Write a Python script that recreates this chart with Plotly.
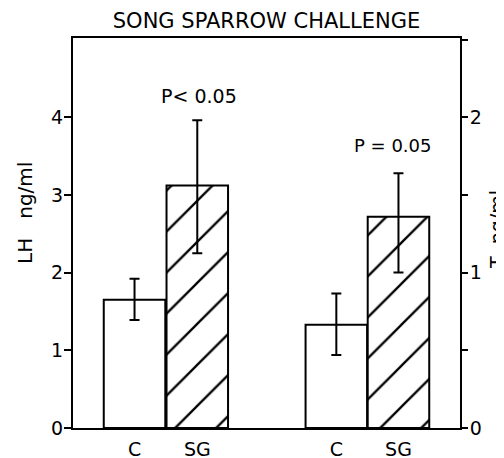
import plotly.graph_objects as go

# Data
groups = ["C", "SG"]
lh_values = [1.65, 3.12]
lh_err_plus = [0.27, 0.84]
lh_err_minus = [0.26, 0.87]
t_values = [0.665, 1.36]
t_err_plus = [0.20, 0.28]
t_err_minus = [0.195, 0.36]
p_labels = ["P< 0.05", "P = 0.05"]

# positions (layout)
lh_x = [1.0, 2.02]
t_x = [4.28, 5.29]

FONT = "DejaVu Sans"
OFF = 8  # page body margin
L, R, T, B = 65, 52, 30, 38
PW, PH = 504 - L - R, 458 - T - B

def px(xs):
    return (xs - OFF - L) / PW

def py(ys):
    return (458 - B - (ys - OFF)) / PH

fig = go.Figure()

def add_bars(xs, vals, ep, em, yaxis):
    for i in range(2):
        if i == 1:
            pattern = dict(shape="/", fgcolor="black", bgcolor="white", fgopacity=1,
                           size=29, solidity=0.08)
        else:
            pattern = dict(shape="")
        fig.add_trace(go.Bar(
            x=[xs[i]], y=[vals[i]], width=1.0, yaxis=yaxis,
            marker=dict(color="white", line=dict(color="black", width=2), pattern=pattern),
            error_y=dict(type="data", array=[ep[i]], arrayminus=[em[i]], color="black",
                         thickness=2, width=5),
            showlegend=False,
        ))

add_bars(lh_x, lh_values, lh_err_plus, lh_err_minus, "y")
add_bars(t_x, t_values, t_err_plus, t_err_minus, "y2")

fig.update_layout(
    width=504, height=458,
    margin=dict(l=L, r=R, t=T, b=B, autoexpand=False),
    paper_bgcolor="white", plot_bgcolor="white",
    font=dict(family=FONT, size=19, color="black"),
    barmode="overlay",
    title=dict(text="SONG SPARROW CHALLENGE", x=0.5, xref="paper", xanchor="center",
               y=1 - (21 - OFF)/458, yanchor="middle", font=dict(family=FONT, size=21, color="black")),
    xaxis=dict(range=[0, 6.29], tickvals=lh_x + t_x, ticktext=groups + groups,
               showline=True, linecolor="black", linewidth=2, mirror=True, automargin=False,
               ticks="", showgrid=False, zeroline=False, ticklabelstandoff=3),
    yaxis=dict(range=[0, 5.02], tickvals=[0, 1, 2, 3, 4], ticks="outside", ticklen=7, tickwidth=2,
               tickcolor="black", showline=True, linecolor="black", linewidth=2, automargin=False,
               showgrid=False, zeroline=False, ticklabelstandoff=-3),
    yaxis2=dict(range=[0, 2.51], overlaying="y", side="right",
                tickvals=[0, 0.5, 1, 1.5, 2, 2.5], ticktext=["0", "", "1", "", "2", ""],
                ticks="outside", ticklen=6, tickwidth=2, tickcolor="black", automargin=False,
                showline=True, linecolor="black", linewidth=2, showgrid=False, zeroline=False,
                ticklabelstandoff=-2),
)

fig.add_annotation(x=2.05, y=4.27, xref="x", yref="y", text=p_labels[0], showarrow=False,
                   xanchor="center", yanchor="middle", font=dict(size=19))
fig.add_annotation(x=5.2, y=3.63, xref="x", yref="y", text=p_labels[1], showarrow=False,
                   xanchor="center", yanchor="middle", font=dict(size=18))
fig.add_annotation(x=px(25), y=py(213), xref="paper", yref="paper", text="LH   ng/ml",
                   xanchor="center", yanchor="middle",
                   textangle=-90, showarrow=False, font=dict(size=20))
fig.add_annotation(x=px(497), y=py(230), xref="paper", yref="paper", text="T  ng/ml",
                   xanchor="center", yanchor="middle",
                   textangle=-90, showarrow=False, font=dict(size=19))

fig.write_html("out.html")
